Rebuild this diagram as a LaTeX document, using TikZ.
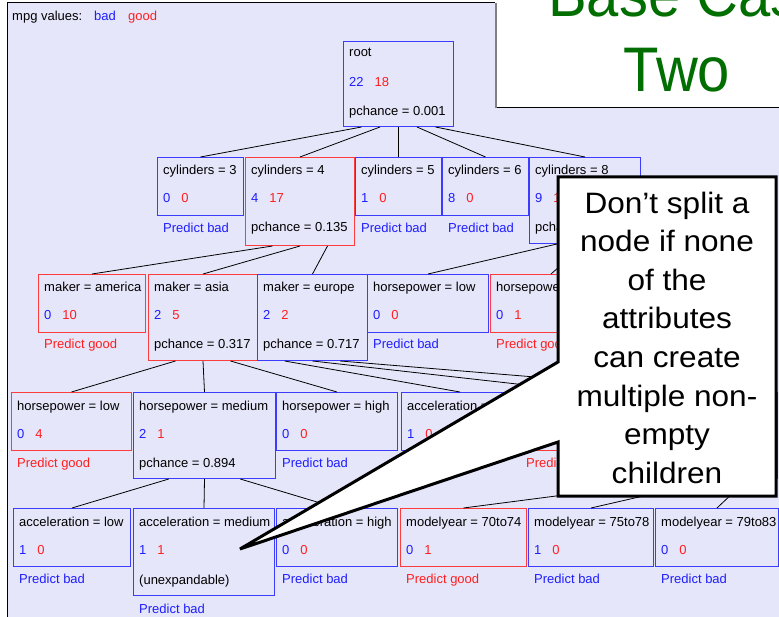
\documentclass[tikz,border=0pt]{standalone}
\usepackage{fontspec}
\setmainfont{Liberation Sans}
\newfontfamily\bigfont[FakeStretch=0.92]{Liberation Sans}
\newfontfamily\callfont[FakeStretch=1.07]{Liberation Sans}
\usetikzlibrary{calc}
\definecolor{bgl}{RGB}{230,230,250}
\definecolor{tblue}{RGB}{30,30,255}
\definecolor{tred}{RGB}{255,30,30}
\definecolor{bblue}{RGB}{60,60,255}
\definecolor{bred}{RGB}{255,60,60}
\definecolor{dgreen}{RGB}{0,110,0}
\newcommand\TBox[6]{\node[tbox,draw=#6,minimum width=#4pt,minimum height=#5pt,anchor=north west] (#1) at (#2,#3) {};}
\newcommand\TLine[4]{\node[ttext] (#1#3) at ([xshift=6pt,yshift=-#2pt]#1.north west) {#4};}
\newcommand\TCnt[3]{\TLine{#1}{46}{c}{\textcolor{tblue}{#2}\hspace{11pt}\textcolor{tred}{#3}}}
\newcommand\TPb[2]{\TLine{#1}{#2}{p}{\textcolor{tblue}{Predict bad}}}
\newcommand\TPg[2]{\TLine{#1}{#2}{p}{\textcolor{tred}{Predict good}}}
\newcommand\TEdge[3]{\draw[tedge] ($(#1.south west)!#2!(#1.south east)$) -- (#3.north);}
\tikzset{
  tbox/.style={rectangle, line width=1pt, inner sep=0pt},
  ttext/.style={anchor=base west, inner sep=0pt, font=\fontsize{13}{15}\selectfont},
  tedge/.style={black, line width=0.8pt},
  callt/.style={anchor=north, align=center, inner sep=0pt, font=\callfont\fontsize{29.5}{38.6}\selectfont},
  bigt/.style={inner sep=0pt, text=dgreen, font=\bigfont\fontsize{63}{70}\selectfont}
}
\begin{document}
\begin{tikzpicture}[x=1pt,y=-1pt]
\useasboundingbox (0,0) rectangle (779,617);
\clip (0,0) rectangle (779,617);
\fill[white] (0,0) rectangle (779,617);
\fill[bgl] (7,3) rectangle (780,618);
\draw[black, line width=1pt] (7,620) -- (7,3) -- (496,3);
% legend
\node[ttext] (leg) at (12,21) {mpg values:};
\node[ttext, text=tblue] (legbad) at (94,21) {bad};
\node[ttext, text=tred] (leggood) at (128,21) {good};
% root
\TBox{root}{343}{41}{110}{85}{bblue}
\TLine{root}{16}{t}{root}
\TCnt{root}{22}{18}
\TLine{root}{75}{x}{pchance = 0.001}
% row 1
\TBox{c3}{157}{157}{86}{58}{bblue}
\TLine{c3}{18}{t}{cylinders = 3}\TCnt{c3}{0}{0}\TPb{c3}{76}
\TBox{c4}{245}{157}{109}{88}{bred}
\TLine{c4}{18}{t}{cylinders = 4}\TCnt{c4}{4}{17}\TLine{c4}{75}{x}{pchance = 0.135}
\TBox{c5}{355}{157}{86}{58}{bblue}
\TLine{c5}{18}{t}{cylinders = 5}\TCnt{c5}{1}{0}\TPb{c5}{76}
\TBox{c6}{442}{157}{86}{58}{bblue}
\TLine{c6}{18}{t}{cylinders = 6}\TCnt{c6}{8}{0}\TPb{c6}{76}
\TBox{c8}{529}{157}{111}{86}{bblue}
\TLine{c8}{18}{t}{cylinders = 8}\TCnt{c8}{9}{1}\TLine{c8}{75}{x}{pchance}
% row 2
\TBox{ma}{38}{274}{107}{58}{bred}
\TLine{ma}{18}{t}{maker = america}\TCnt{ma}{0}{10}\TPg{ma}{75}
\TBox{mas}{148}{274}{109}{86}{bred}
\TLine{mas}{18}{t}{maker = asia}\TCnt{mas}{2}{5}\TLine{mas}{75}{x}{pchance = 0.317}
\TBox{me}{257}{274}{110}{86}{bblue}
\TLine{me}{18}{t}{maker = europe}\TCnt{me}{2}{2}\TLine{me}{75}{x}{pchance = 0.717}
\TBox{hxl}{367}{274}{121}{58}{bblue}
\TLine{hxl}{18}{t}{horsepower = low}\TCnt{hxl}{0}{0}\TPb{hxl}{75}
\TBox{hxm}{490}{274}{121}{58}{bred}
\TLine{hxm}{18}{t}{horsepower = medium}\TCnt{hxm}{0}{1}\TPg{hxm}{75}
% row 3
\TBox{hl}{11}{392}{120}{58}{bred}
\TLine{hl}{18}{t}{horsepower = low}\TCnt{hl}{0}{4}\TPg{hl}{75}
\TBox{hm}{133}{392}{142}{86}{bblue}
\TLine{hm}{18}{t}{horsepower = medium}\TCnt{hm}{2}{1}\TLine{hm}{75}{x}{pchance = 0.894}
\TBox{hh}{276}{392}{121}{58}{bblue}
\TLine{hh}{18}{t}{horsepower = high}\TCnt{hh}{0}{0}\TPb{hh}{75}
\TBox{al}{401}{392}{117}{58}{bblue}
\TLine{al}{18}{t}{acceleration = low}\TCnt{al}{1}{0}
\TBox{am}{520}{392}{135}{58}{bred}
\TPg{am}{75}
\TBox{ah}{657}{392}{120}{86}{bblue}
% row 4
\TBox{bl}{13}{508}{117}{58}{bblue}
\TLine{bl}{18}{t}{acceleration = low}\TCnt{bl}{1}{0}\TPb{bl}{75}
\TBox{bm}{133}{508}{141}{87}{bblue}
\TLine{bm}{18}{t}{acceleration = medium}\TCnt{bm}{1}{1}\TLine{bm}{76}{x}{(unexpandable)}\TPb{bm}{105}
\TBox{bh}{276}{508}{121}{58}{bblue}
\TLine{bh}{18}{t}{acceleration = high}\TCnt{bh}{0}{0}\TPb{bh}{75}
\TBox{ya}{400}{508}{126}{58}{bred}
\TLine{ya}{18}{t}{modelyear = 70to74}\TCnt{ya}{0}{1}\TPg{ya}{75}
\TBox{yb}{528}{508}{125}{58}{bblue}
\TLine{yb}{18}{t}{modelyear = 75to78}\TCnt{yb}{1}{0}\TPb{yb}{75}
\TBox{yc}{655}{508}{123}{58}{bblue}
\TLine{yc}{18}{t}{modelyear = 79to83}\TCnt{yc}{0}{0}\TPb{yc}{75}
% edges
\TEdge{root}{0.1667}{c3}\TEdge{root}{0.3333}{c4}\TEdge{root}{0.5}{c5}\TEdge{root}{0.6667}{c6}\TEdge{root}{0.8333}{c8}
\TEdge{c4}{0.25}{ma}\TEdge{c4}{0.5}{mas}\TEdge{c4}{0.75}{me}
\TEdge{c8}{0.25}{hxl}\TEdge{c8}{0.5}{hxm}
\TEdge{mas}{0.25}{hl}\TEdge{mas}{0.5}{hm}\TEdge{mas}{0.75}{hh}
\TEdge{me}{0.25}{al}\TEdge{me}{0.5}{am}\TEdge{me}{0.75}{ah}
\TEdge{hm}{0.25}{bl}\TEdge{hm}{0.5}{bm}\TEdge{hm}{0.75}{bh}
\TEdge{ah}{0.25}{ya}\TEdge{ah}{0.5}{yb}\TEdge{ah}{0.75}{yc}
% title box
\fill[white] (495,-5) rectangle (785,108);
\draw[black, line width=1pt] (495,108) -- (785,108);
\draw[gray, line width=2pt] (496,3) -- (496,108);
\node[bigt, anchor=base west] (base) at (548,17) {Base Case};
\node[bigt, anchor=base] (two) at (677,92) {Two};
% callout
\draw[black, line width=3pt, fill=white, line join=miter, miter limit=2]
  (558,177) -- (776,177) -- (776,496) -- (558,496) -- (558,442) -- (240,549) -- (558,362) -- cycle;
\node[callt] (call) at (667,191.5) {Don’t split a\\node if none\\of the\\attributes\\can create\\multiple non-\\empty\\children};
\end{tikzpicture}
\end{document}
